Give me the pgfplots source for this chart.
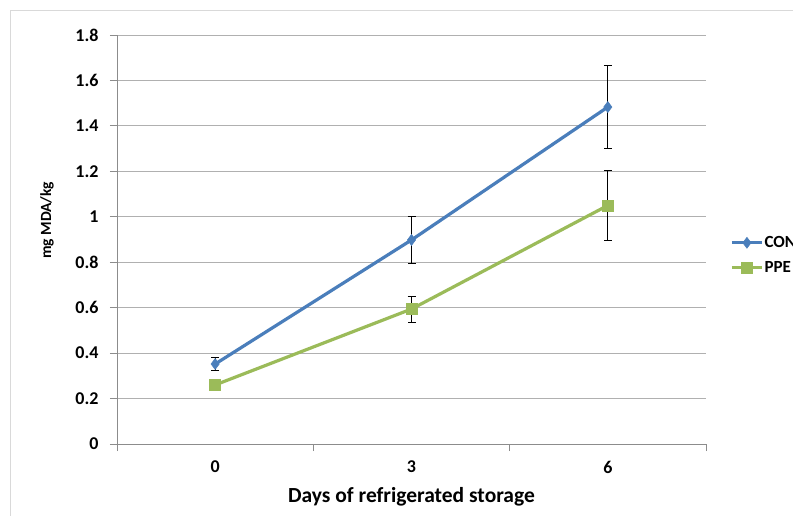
\documentclass[border=0pt]{standalone}
\usepackage{pgfplots}
\pgfplotsset{compat=1.18}
\usepackage{fontspec}
\setmainfont{Carlito}
\definecolor{conblue}{HTML}{4A7EBB}
\definecolor{ppegreen}{HTML}{9BBB59}
\definecolor{gridgray}{HTML}{B0B0B0}
\definecolor{axgray}{HTML}{8C8C8C}
\definecolor{framegray}{HTML}{D9D9D9}
\begin{document}
\begin{tikzpicture}
\useasboundingbox (0,0) rectangle (793pt,-515pt);
\clip (0,0) rectangle (793pt,-515pt);
\fill[white] (0,0) rectangle (793pt,-515pt);
\draw[framegray, line width=1pt] (10pt,-530pt) -- (10pt,-10pt) -- (810pt,-10pt);
\begin{axis}[
  at={(117pt,-444pt)}, anchor=south west,
  scale only axis, width=589pt, height=409pt,
  xmin=-0.5, xmax=2.5, ymin=0, ymax=1.8,
  axis x line=bottom, axis y line=left,
  axis line style={axgray, line width=0.8pt, -},
  xtick={0,1,2}, xticklabels={0,3,6},
  major x tick style={draw=none},
  minor xtick={-0.5,0.5,1.5,2.5},
  minor x tick style={axgray, line width=0.8pt},
  minor tick length=7pt,
  ytick={0,0.2,...,1.8},
  yticklabels={0,0.2,0.4,0.6,0.8,1,1.2,1.4,1.6,1.8},
  major y tick style={axgray, line width=0.8pt},
  major tick length=7pt,
  tick align=outside,
  ymajorgrids, grid style={gridgray, line width=0.8pt},
  /pgf/number format/assume math mode=true,
  tick label style={font=\fontsize{18}{20}\selectfont\bfseries},
  xticklabel style={anchor=center, yshift=-16pt},
  yticklabel style={anchor=east, xshift=-8pt},
  xlabel={Days of refrigerated storage},
  xlabel style={at={(axis description cs:0.5,0)}, anchor=center, yshift=-53pt, font=\fontsize{21.5}{24}\selectfont\bfseries},
  ylabel={mg MDA/kg},
  ylabel style={at={(axis description cs:-0.119,0.547)}, anchor=center, font=\fontsize{15.5}{18}\selectfont\bfseries},
  legend style={at={(axis description cs:1.041,0.462)}, anchor=west, draw=none, fill=none,
    font=\fontsize{17}{19}\selectfont\bfseries, row sep=10pt, inner sep=0pt,
    nodes={inner sep=1pt},
    /tikz/every even column/.append style={column sep=0pt}},
  legend cell align=left,
  legend image code/.code={\draw[mark repeat=2,mark phase=2] plot coordinates {(0pt,0pt)(15pt,0pt)(30pt,0pt)};},
  clip=false,
]
\addplot[conblue, line width=3.2pt, mark=diamond*, mark size=5.5pt, mark options={solid, fill=conblue, draw=conblue, line width=0.5pt},
  error bars/.cd, y dir=both, y explicit,
  error bar style={black, line width=0.8pt},
  error mark options={rotate=90, black, mark size=4pt, line width=0.8pt}]
  table[x=x, y=y, y error=e] {
x y e
0 0.352 0.030
1 0.898 0.105
2 1.483 0.182
};
\addlegendentry{CON}
\addplot[ppegreen, line width=3.2pt, mark=square*, mark size=5.5pt, mark options={solid, fill=ppegreen, draw=ppegreen, line width=0.5pt},
  error bars/.cd, y dir=both, y explicit,
  error bar style={black, line width=0.8pt},
  error mark options={rotate=90, black, mark size=4pt, line width=0.8pt}]
  table[x=x, y=y, y error=e] {
x y e
0 0.260 0.000
1 0.594 0.057
2 1.050 0.155
};
\addlegendentry{PPE}
\end{axis}
\end{tikzpicture}
\end{document}
